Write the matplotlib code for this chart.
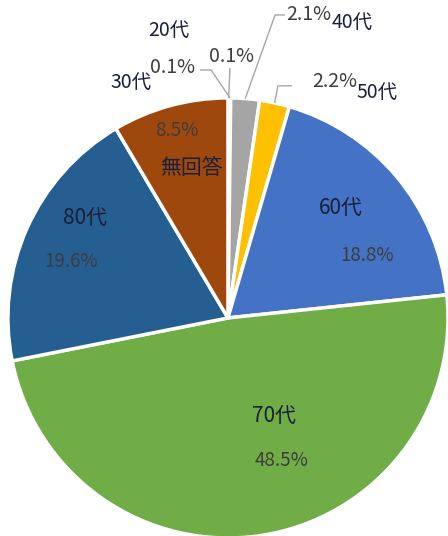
import numpy as np
import matplotlib.pyplot as plt

plt.rcParams['font.family'] = ['Noto Sans CJK JP', 'DejaVu Sans']

# data, clockwise from 12 o'clock
categories = ["20代", "30代", "40代", "50代", "60代", "70代", "80代", "無回答"]
shares = [0.1, 0.1, 2.1, 2.2, 18.8, 48.5, 19.6, 8.5]
colors = ["#5B9BD5", "#ED7D31", "#A5A5A5", "#FFC000", "#4472C4",
          "#70AD47", "#255E91", "#9E480E"]

name_color = "#1c1f3a"
pct_color = "#3d3d3d"

fig = plt.figure(figsize=(4.48, 5.36), dpi=100)
ax = fig.add_axes([0, 0, 1, 1])
wedges, _ = ax.pie(shares, colors=colors, startangle=90, counterclock=False,
                   radius=1.0, wedgeprops=dict(edgecolor="white", linewidth=2.5))

# wedge mid-angles for leader lines
cum = np.cumsum([0] + shares[:-1]) + np.array(shares) / 2
mid = np.deg2rad(90 - cum / 100 * 360)

# labels inside big slices: (name pos, pct pos)
inside = {
    4: ((0.514, 0.50), (0.632, 0.282)),
    5: ((0.209, -0.445), (0.245, -0.65)),
    6: ((-0.65, 0.455), (-0.714, 0.255)),
    7: ((-0.168, 0.682), (-0.232, 0.85)),
}
for i, (npos, ppos) in inside.items():
    ax.text(*npos, categories[i], ha="center", va="center", fontsize=15,
            color=name_color)
    ax.text(*ppos, f"{shares[i]}%", ha="center", va="center", fontsize=13.5,
            color=pct_color)

# small slices: name pos, pct pos, leader elbow, leader end near text
outside = {
    0: ((-0.268, 1.305), (0.014, 1.186), None, (0.009, 1.136)),
    1: ((-0.441, 1.068), (-0.25, 1.136), (-0.077, 1.127), (-0.127, 1.127)),
    2: ((0.564, 1.345), (0.368, 1.377), (0.214, 1.377), (0.259, 1.377)),
    3: ((0.677, 1.023), (0.486, 1.073), (0.227, 1.055), (0.291, 1.055)),
}
for i, (npos, ppos, elbow, end) in outside.items():
    ax.text(*npos, categories[i], ha="center", va="center", fontsize=14,
            color=name_color)
    ax.text(*ppos, f"{shares[i]}%", ha="center", va="center", fontsize=14,
            color=pct_color)
    x0, y0 = np.cos(mid[i]), np.sin(mid[i])
    xs, ys = [x0], [y0]
    if elbow is not None:
        xs.append(elbow[0]); ys.append(elbow[1])
    xs.append(end[0]); ys.append(end[1])
    ax.plot(xs, ys, color="#A6A6A6", lw=1.0, solid_capstyle="butt")

ax.set_xlim(-1.036, 1.0)
ax.set_ylim(-0.991, 1.445)
ax.set_aspect("equal")
ax.axis("off")
fig.savefig("out.png", dpi=100)
